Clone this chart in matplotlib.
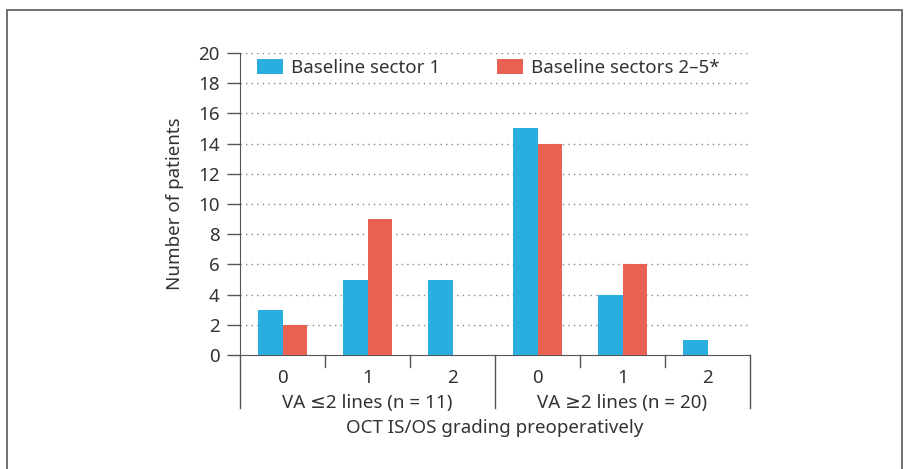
import matplotlib
matplotlib.use("Agg")
import matplotlib.pyplot as plt
from matplotlib.patches import Rectangle
from matplotlib.lines import Line2D
import numpy as np

plt.rcParams['font.family'] = ['Noto Sans', 'DejaVu Sans']

# Data
grades = ['0', '1', '2', '0', '1', '2']
groups = ['VA \u22642 lines (n = 11)', 'VA \u22652 lines (n = 20)']
sector1 = [3, 5, 5, 15, 4, 1]
sectors25 = [2, 9, 0, 14, 6, 0]
series_names = ['Baseline sector 1', 'Baseline sectors 2\u20135*']

blue = '#2aaee0'
red = '#e96152'
txt = '#333333'
axc = '#555555'
fs = 13.5

W, H = 911, 469
fig = plt.figure(figsize=(W / 100, H / 100), dpi=100)
ax = fig.add_axes([240 / W, (H - 355) / H, (750 - 240) / W, (355 - 53) / H])

x = np.arange(len(grades))
bw = 0.29
ax.bar(x - bw / 2, sector1, bw, color=blue, label=series_names[0], zorder=3)
ax.bar(x + bw / 2, sectors25, bw, color=red, label=series_names[1], zorder=3)

ax.set_xlim(-0.5, 5.5)
ax.set_ylim(0, 20)
ax.set_yticks(range(0, 21, 2))
for v in range(2, 21, 2):
    ax.axhline(v, color='#888888', lw=1, ls=(0, (1, 3)), zorder=1)

for s in ['top', 'right']:
    ax.spines[s].set_visible(False)
ax.spines['left'].set_color(axc)
ax.spines['bottom'].set_color(axc)
ax.tick_params(axis='y', direction='out', length=9.5, width=1, color=axc,
               labelsize=fs, labelcolor=txt, pad=5)
ax.set_xticks([])

# category labels and separators below the axis
trans = ax.get_xaxis_transform()
for i, g in enumerate(grades):
    ax.annotate(g, (i, 0), xycoords=trans, xytext=(0, -23), textcoords='offset pixels',
                ha='center', va='center', fontsize=fs, color=txt)
for s in [0.5, 1.5, 3.5, 4.5]:
    ax.add_line(Line2D([s, s], [0, -12 / 302], transform=trans, color=axc, lw=1, clip_on=False))
for s in [-0.5, 2.5, 5.5]:
    ax.add_line(Line2D([s, s], [0, -53 / 302], transform=trans, color=axc, lw=1, clip_on=False))
for j, g in enumerate(groups):
    ax.annotate(g, (1 + 3 * j, 0), xycoords=trans, xytext=(0, -48), textcoords='offset pixels',
                ha='center', va='center', fontsize=fs, color=txt)
ax.annotate('OCT IS/OS grading preoperatively', (2.5, 0), xycoords=trans, xytext=(0, -73),
            textcoords='offset pixels', ha='center', va='center', fontsize=fs, color=txt)

ax.set_ylabel('Number of patients', fontsize=fs, color=txt, labelpad=10)

ax.legend(loc='center left', bbox_to_anchor=(17 / 510, 1 - 15 / 302), ncol=2, frameon=False,
          fontsize=fs, labelcolor=txt, handlelength=1.39, handleheight=0.8,
          handletextpad=0.43, columnspacing=3.0, borderaxespad=0, borderpad=0)

# outer frame
fig.patches.append(Rectangle((7 / W, -0.05), (902 - 7) / W, (H - 10) / H + 0.05,
                             transform=fig.transFigure, fill=False, ec='#666666', lw=1.3))

fig.savefig('out.png', dpi=100)
